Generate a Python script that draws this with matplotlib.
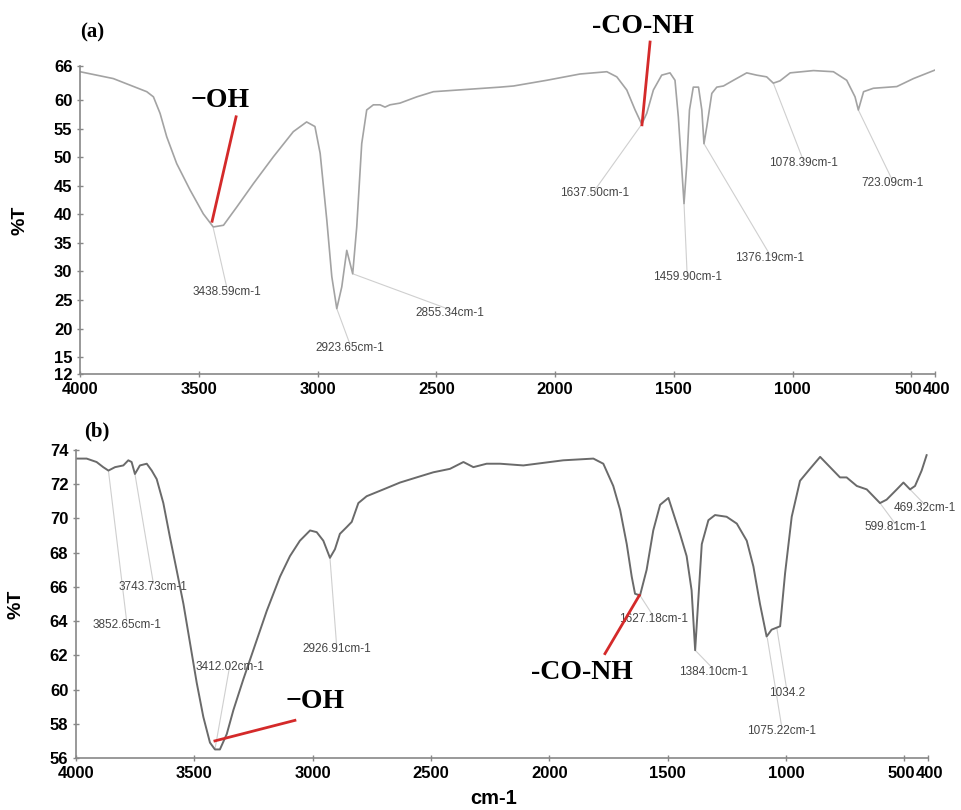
import matplotlib.pyplot as plt
from matplotlib.transforms import ScaledTranslation

# spectrum (a): wavenumber (cm-1) and %T
wn_a = [4000, 3860, 3719, 3691, 3663, 3635, 3593, 3537, 3481, 3439, 3396, 3340,
        3270, 3186, 3102, 3046, 3011, 2989, 2961, 2940, 2919, 2898, 2877, 2863,
        2852, 2835, 2814, 2793, 2765, 2737, 2716, 2695, 2653, 2582, 2512, 2372,
        2232,
        2175, 2035, 1895, 1782, 1740, 1698, 1663, 1635, 1614, 1586, 1551, 1516,
        1495, 1481, 1467, 1457, 1446, 1434, 1418, 1396, 1382, 1373, 1361, 1340,
        1319, 1291, 1249, 1193, 1151, 1109, 1081, 1053, 1010, 912, 828, 772,
        737, 723, 701, 660, 561, 491, 400]
t_a = [65.0, 63.8, 61.5, 60.6, 57.7, 53.6, 48.9, 44.3, 40.1, 37.8, 38.1, 41.3,
       45.4, 50.1, 54.5, 56.2, 55.4, 50.7, 39.0, 29.1, 23.5, 27.3, 33.7, 31.4,
       29.6, 37.8, 52.4, 58.3, 59.2, 59.2, 58.8, 59.2, 59.5, 60.6, 61.5, 61.9,
       62.3,
       62.5, 63.5, 64.6, 65.0, 64.1, 61.8, 58.3, 55.8, 57.7, 61.8, 64.4, 64.8,
       63.5, 57.1, 48.4, 41.9, 48.4, 58.3, 62.3, 62.3, 58.3, 52.4, 55.4, 61.2,
       62.3, 62.5, 63.5, 64.8, 64.4, 64.1, 63.0, 63.4, 64.8, 65.2, 65.0, 63.5,
       60.6, 58.3, 61.5, 62.1, 62.4, 63.8, 65.3]

# spectrum (b)
wn_b = [4000, 3955, 3913, 3885, 3863, 3835, 3800, 3779, 3765, 3751, 3730, 3701,
        3680, 3659, 3631, 3603, 3575, 3546, 3518, 3490, 3462, 3434, 3413, 3392,
        3363, 3335, 3293, 3251, 3194, 3138, 3096, 3054, 3011, 2983, 2955, 2927,
        2906, 2885, 2856, 2835, 2807, 2772, 2701, 2631, 2561, 2490, 2420, 2363,
        2321, 2265, 2208,
        2110, 1941, 1814, 1772, 1730, 1701, 1673, 1652, 1638, 1617, 1589, 1561,
        1532, 1497, 1476, 1448, 1420, 1399, 1384, 1370, 1356, 1328, 1300, 1251,
        1208, 1166, 1138, 1110, 1082, 1061, 1025, 1004, 976, 941, 899, 856,
        814, 772, 744, 701, 659, 603, 575, 532, 504, 476, 455, 427, 406]
t_b = [73.5, 73.5, 73.3, 73.0, 72.8, 73.0, 73.1, 73.4, 73.3, 72.6, 73.1, 73.2,
       72.8, 72.3, 70.9, 68.9, 67.0, 65.0, 62.7, 60.4, 58.4, 56.9, 56.5, 56.5,
       57.4, 58.8, 60.6, 62.3, 64.6, 66.6, 67.8, 68.7, 69.3, 69.2, 68.7, 67.7,
       68.2, 69.1, 69.5, 69.8, 70.9, 71.3, 71.7, 72.1, 72.4, 72.7, 72.9, 73.3,
       73.0, 73.2, 73.2,
       73.1, 73.4, 73.5, 73.2, 71.9, 70.5, 68.5, 66.6, 65.6, 65.5, 67.0, 69.3,
       70.8, 71.2, 70.3, 69.1, 67.8, 65.8, 62.3, 65.4, 68.5, 69.9, 70.2, 70.1,
       69.7, 68.7, 67.2, 65.0, 63.1, 63.5, 63.7, 66.8, 70.1, 72.2, 72.9, 73.6,
       73.0, 72.4, 72.4, 71.9, 71.7, 70.9, 71.1, 71.7, 72.1, 71.7, 71.9, 72.8, 73.7]

# peak labels: text, peak (wn, %T), label position (wn, %T)
peaks_a = [("3438.59cm-1", (3439, 37.6), (3381, 26.4)),
           ("2923.65cm-1", (2919, 23.5), (2863, 16.6)),
           ("2855.34cm-1", (2852, 29.6), (2442, 22.7)),
           ("1637.50cm-1", (1635, 55.8), (1832, 43.7)),
           ("1459.90cm-1", (1457, 41.9), (1444, 29.0)),
           ("1376.19cm-1", (1373, 52.4), (1095, 32.3)),
           ("1078.39cm-1", (1081, 63.0), (956, 49.0)),
           ("723.09cm-1", (723, 58.3), (581, 45.5))]
peaks_b = [("3743.73cm-1", (3751, 72.6), (3673, 66.0)),
           ("3852.65cm-1", (3863, 72.8), (3786, 63.8)),
           ("3412.02cm-1", (3413, 56.5), (3349, 61.3)),
           ("2926.91cm-1", (2927, 67.7), (2899, 62.4)),
           ("1627.18cm-1", (1617, 65.5), (1561, 64.1)),
           ("1384.10cm-1", (1384, 62.3), (1307, 61.0)),
           ("1034.2", (1039, 63.6), (997, 59.8)),
           ("1075.22cm-1", (1079, 63.0), (1018, 57.6)),
           ("599.81cm-1", (603, 70.9), (539, 69.5)),
           ("469.32cm-1", (476, 71.7), (413, 70.6))]

xticks = [4000, 3500, 3000, 2500, 2000, 1500, 1000, 500, 400]
yticks_a = [12, 15, 20, 25, 30, 35, 40, 45, 50, 55, 60, 66]
yticks_b = [56, 58, 60, 62, 64, 66, 68, 70, 72, 74]

sans = 'Liberation Sans'
serif = 'Liberation Serif'
fig = plt.figure(figsize=(9.62, 8.10), dpi=100)
ax1 = fig.add_axes([0.0832, 0.538, 0.8888, 0.3805])
ax2 = fig.add_axes([0.079, 0.0642, 0.8857, 0.3802])


def style(ax, yticks):
    ax.set_xlim(4000, 400)
    ax.set_ylim(yticks[0], yticks[-1])
    for s in ['top', 'right']:
        ax.spines[s].set_visible(False)
    for s in ['left', 'bottom']:
        ax.spines[s].set_color('#888888')
        ax.spines[s].set_linewidth(1.2)
    ax.set_xticks(xticks)
    ax.set_yticks(yticks)
    ax.tick_params(axis='both', colors='#888888', length=4, width=1,
                   direction='inout', labelcolor='black', labelsize=12)
    for lab in ax.get_xticklabels() + ax.get_yticklabels():
        lab.set_fontfamily(sans)
        lab.set_fontweight('bold')
    # 500 and 400 sit close together, nudge them apart like the original
    labs = ax.get_xticklabels()
    labs[-2].set_transform(labs[-2].get_transform()
                           + ScaledTranslation(-3 / 100, 0, fig.dpi_scale_trans))
    labs[-1].set_transform(labs[-1].get_transform()
                           + ScaledTranslation(1 / 100, 0, fig.dpi_scale_trans))
    ax.set_ylabel('%T', fontsize=14, fontweight='bold', family=sans)
    ax.yaxis.set_label_coords(-0.06, 0.5)


def peak_labels(ax, peaks):
    for txt, (px, py), (lx, ly) in peaks:
        ax.plot([px, lx], [py, ly + 0.6 if ax is ax1 else ly + 0.2],
                color='#cfcfcf', lw=0.8, zorder=1)
        ax.text(lx, ly, txt, fontsize=8.5, family=sans, color='#444444',
                ha='center', va='center', clip_on=False)


style(ax1, yticks_a)
style(ax2, yticks_b)
ax1.plot(wn_a, t_a, color='#a3a3a3', lw=1.2, zorder=2)
ax2.plot(wn_b, t_b, color='#6a6a6a', lw=1.4, zorder=2)
peak_labels(ax1, peaks_a)
peak_labels(ax2, peaks_b)

# red group markers
ax1.plot([3444, 3343], [38.8, 57.1], color='#d42a2a', lw=2, zorder=3)
ax1.text(3410, 60.0, '\u2212OH', fontsize=20, fontweight='bold', family=serif,
         ha='center', va='center')
ax1.plot([1634, 1600], [55.7, 70.2], color='#d42a2a', lw=2, zorder=3, clip_on=False)
ax1.text(1630, 72.9, '-CO-NH', fontsize=20, fontweight='bold', family=serif,
         ha='center', va='center', clip_on=False)
ax1.text(0.0, 1.11, '(a)', transform=ax1.transAxes, fontsize=15,
         fontweight='bold', family=serif, ha='left', va='center')

ax2.plot([3413, 3075], [57.0, 58.2], color='#d42a2a', lw=2, zorder=3)
ax2.text(2990, 59.3, '\u2212OH', fontsize=20, fontweight='bold', family=serif,
         ha='center', va='center')
ax2.plot([1765, 1620], [62.1, 65.5], color='#d42a2a', lw=2, zorder=3)
ax2.text(1863, 61.0, '-CO-NH', fontsize=20, fontweight='bold', family=serif,
         ha='center', va='center')
ax2.text(0.01, 1.06, '(b)', transform=ax2.transAxes, fontsize=15,
         fontweight='bold', family=serif, ha='left', va='center')
ax2.set_xlabel('cm-1', fontsize=14.5, fontweight='bold', family=sans)
ax2.xaxis.set_label_coords(0.49, -0.1)

plt.savefig('out.png', dpi=100)
